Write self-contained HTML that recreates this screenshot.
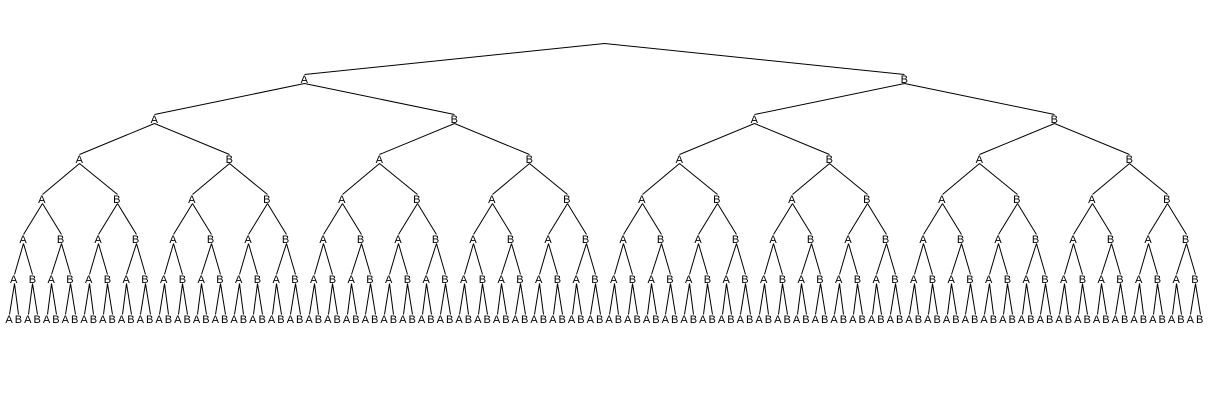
<!DOCTYPE html>
<html><head><meta charset="utf-8"><style>
html,body{margin:0;padding:0;background:#fff;width:1222px;height:411px;overflow:hidden}
text{font-family:"Liberation Sans",sans-serif;font-size:11px;fill:#000}
</style></head><body>
<svg id="s" width="1222" height="411" xmlns="http://www.w3.org/2000/svg">
<g id="lines" stroke="#000" stroke-width="1" fill="none"></g>
<text id="t1" text-anchor="middle">AB</text>
<text id="t2" text-anchor="middle">ABAB</text>
<text id="t3" text-anchor="middle">ABABABAB</text>
<text id="t4" text-anchor="middle">ABABABABABABABAB</text>
<text id="t5" text-anchor="middle">ABABABABABABABABABABABABABABABAB</text>
<text id="t6" text-anchor="middle">ABABABABABABABABABABABABABABABABABABABABABABABABABABABABABABABAB</text>
<text id="t7" text-anchor="middle">ABABABABABABABABABABABABABABABABABABABABABABABABABABABABABABABABABABABABABABABABABABABABABABABABABABABABABABABABABABABABABABABABAB</text>
</svg>
<script>
var ys=[43,79,119,159,199,239,279,319];
function cx(k,j){var m=Math.pow(2,7-k);return 9+9.375*(j*m+(m-1)/2);}
var g=document.getElementById('lines'),ns='http://www.w3.org/2000/svg',d='';
for(var k=1;k<=7;k++){
  var n=Math.pow(2,k),xs=[];
  for(var j=0;j<n;j++){
    var x=cx(k,j);xs.push(x.toFixed(2));
    var px=k==1?cx(0,0):cx(k-1,Math.floor(j/2));
    var py=k==1?ys[0]:ys[k-1]+4;
    d+='M'+(Math.round(px)+0.5)+' '+(py+0.5)+'L'+(Math.round(x)+0.5)+' '+(ys[k]-5+0.5);
  }
  var t=document.getElementById('t'+k);
  t.textContent=t.textContent.slice(0,n);
  t.setAttribute('x',xs.join(' '));t.setAttribute('y',ys[k]+4);
}
var p=document.createElementNS(ns,'path');p.setAttribute('d',d);g.appendChild(p);
</script>
</body></html>
